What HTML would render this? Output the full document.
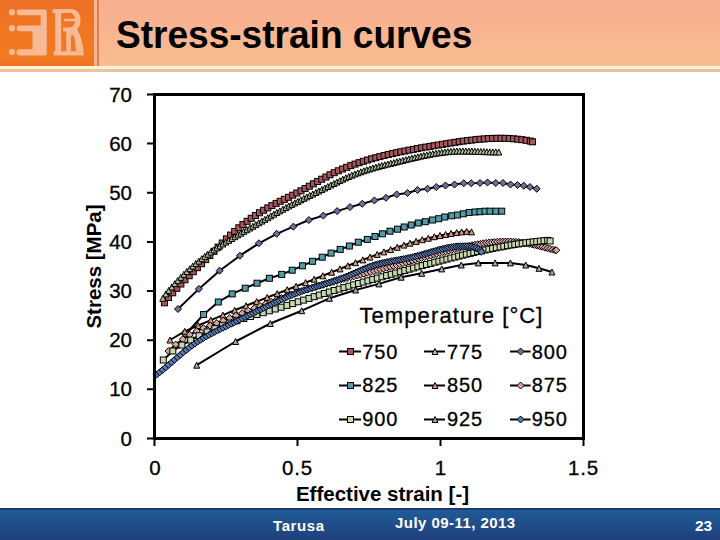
<!DOCTYPE html>
<html><head><meta charset="utf-8">
<style>
html,body{margin:0;padding:0;}
body{width:720px;height:540px;overflow:hidden;position:relative;background:#fff;font-family:"Liberation Sans",sans-serif;}
.abs{position:absolute;}
#logo{left:0;top:0;width:94px;height:66px;background:linear-gradient(#EE7024,#F47A20 85%,#EC7424);}
#strip1{left:94px;top:0;width:3px;height:72px;background:#F8B590;}
#strip2{left:97px;top:0;width:2px;height:72px;background:#D98050;}
#bar{left:99px;top:0;width:621px;height:66px;background:linear-gradient(#F8AD90,#F8BD90);}
#hl1{left:0;top:66px;width:720px;height:3px;background:#FFF3D8;}
#hl2{left:0;top:69px;width:720px;height:3px;background:#E9C2A2;}
#hl2b{left:0;top:69px;width:94px;height:3px;background:#E58A4A;}
#title{left:115.5px;top:13px;font-weight:bold;font-size:39px;color:#000;white-space:nowrap;line-height:44px;transform:scaleX(0.95);transform-origin:0 0;}
#footer{left:0;top:508px;width:720px;height:32px;background:linear-gradient(#1F5E9A,#1F5A96 10%,#1F407C);}
#footline{left:0;top:508px;width:720px;height:2px;background:#1C3B6A;}
.ft{color:#fff;font-weight:bold;font-size:15px;white-space:nowrap;line-height:16px;}
svg{position:absolute;left:0;top:0;}
</style></head><body>
<div id="logo" class="abs"></div>
<div id="strip1" class="abs"></div>
<div id="strip2" class="abs"></div>
<div id="bar" class="abs"></div>
<div id="hl1" class="abs"></div>
<div id="hl2" class="abs"></div>
<svg width="94" height="66" viewBox="0 0 94 66">
<g fill="#F8BA94">
<circle cx="11.9" cy="12.3" r="3.1"/>
<circle cx="11.9" cy="28.2" r="3.1"/>
<circle cx="11.9" cy="52" r="3.1"/>
<path d="M19.5 9.6H44.8Q46.8 9.6 46.8 11.6V53.4Q46.8 55.4 44.8 55.4H19.5A3.05 3.05 0 0 1 19.5 49.3H32.5V31.3H19.5A2.95 2.95 0 0 1 19.5 25.4H40.6V15.2H19.5A2.8 2.8 0 0 1 19.5 9.6Z"/>
<path d="M52.5 9.1H66V13.1H52.5Z"/>
<rect x="55.1" y="12" width="6.1" height="40"/>
<rect x="53.6" y="51.3" width="30" height="4.1"/>
<path d="M63 9.1H71C77.5 9.1 80.5 14.5 80.5 20.5C80.5 24.5 79 27.5 77 29.5C80.5 35 82.8 43 83.6 51.3H76C75.6 45 75 39.5 73.8 35.5H70.9V51.3H66.3V31.5H63V27.5H69.5C73 27.5 75 24.5 75 21.3H63.7V18.7H75C74.5 15.5 72.5 13.1 70 13.1H63Z"/>
</g>
</svg>
<div id="title" class="abs">Stress-strain curves</div>

<svg width="720" height="540" viewBox="0 0 720 540" style="font-family:'Liberation Sans',sans-serif;">
<g><g stroke="#000" stroke-width="1"><rect x="161.4" y="299.8" width="6" height="6" fill="#A8565C"/><rect x="165.5" y="294.5" width="6" height="6" fill="#A8565C"/><rect x="169.7" y="289.8" width="6" height="6" fill="#A8565C"/><rect x="173.8" y="285.3" width="6" height="6" fill="#A8565C"/><rect x="177.9" y="281.0" width="6" height="6" fill="#A8565C"/><rect x="182.0" y="276.8" width="6" height="6" fill="#A8565C"/><rect x="186.2" y="272.7" width="6" height="6" fill="#A8565C"/><rect x="190.3" y="268.7" width="6" height="6" fill="#A8565C"/><rect x="194.4" y="264.7" width="6" height="6" fill="#A8565C"/><rect x="198.6" y="260.7" width="6" height="6" fill="#A8565C"/><rect x="202.7" y="256.6" width="6" height="6" fill="#A8565C"/><rect x="206.8" y="252.5" width="6" height="6" fill="#A8565C"/><rect x="211.0" y="248.3" width="6" height="6" fill="#A8565C"/><rect x="215.1" y="244.1" width="6" height="6" fill="#A8565C"/><rect x="219.2" y="240.0" width="6" height="6" fill="#A8565C"/><rect x="223.4" y="235.9" width="6" height="6" fill="#A8565C"/><rect x="227.5" y="232.1" width="6" height="6" fill="#A8565C"/><rect x="231.7" y="228.4" width="6" height="6" fill="#A8565C"/><rect x="235.8" y="224.8" width="6" height="6" fill="#A8565C"/><rect x="239.9" y="221.5" width="6" height="6" fill="#A8565C"/><rect x="244.1" y="218.3" width="6" height="6" fill="#A8565C"/><rect x="248.2" y="215.3" width="6" height="6" fill="#A8565C"/><rect x="252.4" y="212.5" width="6" height="6" fill="#A8565C"/><rect x="256.5" y="209.8" width="6" height="6" fill="#A8565C"/><rect x="260.6" y="207.3" width="6" height="6" fill="#A8565C"/><rect x="264.8" y="204.9" width="6" height="6" fill="#A8565C"/><rect x="268.9" y="202.6" width="6" height="6" fill="#A8565C"/><rect x="273.1" y="200.4" width="6" height="6" fill="#A8565C"/><rect x="277.2" y="198.3" width="6" height="6" fill="#A8565C"/><rect x="281.4" y="196.3" width="6" height="6" fill="#A8565C"/><rect x="285.5" y="194.3" width="6" height="6" fill="#A8565C"/><rect x="289.7" y="192.2" width="6" height="6" fill="#A8565C"/><rect x="293.8" y="190.0" width="6" height="6" fill="#A8565C"/><rect x="298.0" y="187.8" width="6" height="6" fill="#A8565C"/><rect x="302.1" y="185.5" width="6" height="6" fill="#A8565C"/><rect x="306.3" y="183.2" width="6" height="6" fill="#A8565C"/><rect x="310.4" y="180.8" width="6" height="6" fill="#A8565C"/><rect x="314.6" y="178.5" width="6" height="6" fill="#A8565C"/><rect x="318.7" y="176.2" width="6" height="6" fill="#A8565C"/><rect x="322.9" y="174.0" width="6" height="6" fill="#A8565C"/><rect x="327.0" y="171.8" width="6" height="6" fill="#A8565C"/><rect x="331.2" y="169.7" width="6" height="6" fill="#A8565C"/><rect x="335.3" y="167.8" width="6" height="6" fill="#A8565C"/><rect x="339.5" y="166.0" width="6" height="6" fill="#A8565C"/><rect x="343.7" y="164.3" width="6" height="6" fill="#A8565C"/><rect x="347.8" y="162.6" width="6" height="6" fill="#A8565C"/><rect x="352.0" y="161.1" width="6" height="6" fill="#A8565C"/><rect x="356.1" y="159.7" width="6" height="6" fill="#A8565C"/><rect x="360.3" y="158.3" width="6" height="6" fill="#A8565C"/><rect x="364.5" y="157.0" width="6" height="6" fill="#A8565C"/><rect x="368.6" y="155.8" width="6" height="6" fill="#A8565C"/><rect x="372.8" y="154.7" width="6" height="6" fill="#A8565C"/><rect x="376.9" y="153.6" width="6" height="6" fill="#A8565C"/><rect x="381.1" y="152.5" width="6" height="6" fill="#A8565C"/><rect x="385.3" y="151.5" width="6" height="6" fill="#A8565C"/><rect x="389.4" y="150.6" width="6" height="6" fill="#A8565C"/><rect x="393.6" y="149.7" width="6" height="6" fill="#A8565C"/><rect x="397.8" y="148.8" width="6" height="6" fill="#A8565C"/><rect x="401.9" y="148.0" width="6" height="6" fill="#A8565C"/><rect x="406.1" y="147.1" width="6" height="6" fill="#A8565C"/><rect x="410.3" y="146.4" width="6" height="6" fill="#A8565C"/><rect x="414.4" y="145.6" width="6" height="6" fill="#A8565C"/><rect x="418.6" y="144.8" width="6" height="6" fill="#A8565C"/><rect x="422.8" y="144.1" width="6" height="6" fill="#A8565C"/><rect x="426.9" y="143.4" width="6" height="6" fill="#A8565C"/><rect x="431.1" y="142.7" width="6" height="6" fill="#A8565C"/><rect x="435.3" y="142.0" width="6" height="6" fill="#A8565C"/><rect x="439.5" y="141.3" width="6" height="6" fill="#A8565C"/><rect x="443.6" y="140.7" width="6" height="6" fill="#A8565C"/><rect x="447.8" y="140.0" width="6" height="6" fill="#A8565C"/><rect x="452.0" y="139.3" width="6" height="6" fill="#A8565C"/><rect x="456.2" y="138.7" width="6" height="6" fill="#A8565C"/><rect x="460.3" y="138.1" width="6" height="6" fill="#A8565C"/><rect x="464.5" y="137.6" width="6" height="6" fill="#A8565C"/><rect x="468.7" y="137.1" width="6" height="6" fill="#A8565C"/><rect x="472.9" y="136.6" width="6" height="6" fill="#A8565C"/><rect x="477.1" y="136.2" width="6" height="6" fill="#A8565C"/><rect x="481.2" y="135.9" width="6" height="6" fill="#A8565C"/><rect x="485.4" y="135.6" width="6" height="6" fill="#A8565C"/><rect x="489.6" y="135.4" width="6" height="6" fill="#A8565C"/><rect x="493.8" y="135.3" width="6" height="6" fill="#A8565C"/><rect x="498.0" y="135.3" width="6" height="6" fill="#A8565C"/><rect x="502.1" y="135.3" width="6" height="6" fill="#A8565C"/><rect x="506.3" y="135.5" width="6" height="6" fill="#A8565C"/><rect x="510.5" y="135.8" width="6" height="6" fill="#A8565C"/><rect x="514.7" y="136.2" width="6" height="6" fill="#A8565C"/><rect x="518.9" y="136.7" width="6" height="6" fill="#A8565C"/><rect x="523.1" y="137.3" width="6" height="6" fill="#A8565C"/><rect x="527.3" y="138.1" width="6" height="6" fill="#A8565C"/><rect x="529.5" y="138.8" width="6" height="6" fill="#A8565C"/></g></g>
<g><g stroke="#000" stroke-width="1"><path d="M162.8 295.3L165.8 301.3L159.8 301.3Z" fill="#B2C29C"/><path d="M165.8 290.9L168.8 296.9L162.8 296.9Z" fill="#B2C29C"/><path d="M168.8 287.3L171.8 293.3L165.8 293.3Z" fill="#B2C29C"/><path d="M171.8 283.9L174.8 289.9L168.8 289.9Z" fill="#B2C29C"/><path d="M174.8 280.6L177.8 286.6L171.8 286.6Z" fill="#B2C29C"/><path d="M177.8 277.4L180.8 283.4L174.8 283.4Z" fill="#B2C29C"/><path d="M180.8 274.3L183.8 280.3L177.8 280.3Z" fill="#B2C29C"/><path d="M183.8 271.3L186.8 277.3L180.8 277.3Z" fill="#B2C29C"/><path d="M186.8 268.5L189.8 274.5L183.8 274.5Z" fill="#B2C29C"/><path d="M189.8 265.7L192.8 271.7L186.8 271.7Z" fill="#B2C29C"/><path d="M192.8 263.1L195.8 269.1L189.8 269.1Z" fill="#B2C29C"/><path d="M195.8 260.5L198.8 266.5L192.8 266.5Z" fill="#B2C29C"/><path d="M198.8 258.1L201.8 264.1L195.8 264.1Z" fill="#B2C29C"/><path d="M201.8 255.7L204.8 261.7L198.8 261.7Z" fill="#B2C29C"/><path d="M204.8 253.4L207.8 259.4L201.8 259.4Z" fill="#B2C29C"/><path d="M207.8 251.2L210.8 257.2L204.8 257.2Z" fill="#B2C29C"/><path d="M210.8 249.0L213.8 255.0L207.8 255.0Z" fill="#B2C29C"/><path d="M213.8 246.9L216.8 252.9L210.8 252.9Z" fill="#B2C29C"/><path d="M216.8 244.9L219.8 250.9L213.8 250.9Z" fill="#B2C29C"/><path d="M219.8 242.9L222.8 248.9L216.8 248.9Z" fill="#B2C29C"/><path d="M222.8 241.0L225.8 247.0L219.8 247.0Z" fill="#B2C29C"/><path d="M225.8 239.1L228.8 245.1L222.8 245.1Z" fill="#B2C29C"/><path d="M228.8 237.3L231.8 243.3L225.8 243.3Z" fill="#B2C29C"/><path d="M231.8 235.5L234.8 241.5L228.8 241.5Z" fill="#B2C29C"/><path d="M234.8 233.7L237.8 239.7L231.8 239.7Z" fill="#B2C29C"/><path d="M237.8 231.9L240.8 237.9L234.8 237.9Z" fill="#B2C29C"/><path d="M240.8 230.2L243.8 236.2L237.8 236.2Z" fill="#B2C29C"/><path d="M243.8 228.4L246.8 234.4L240.8 234.4Z" fill="#B2C29C"/><path d="M246.8 226.7L249.8 232.7L243.8 232.7Z" fill="#B2C29C"/><path d="M249.8 225.0L252.8 231.0L246.8 231.0Z" fill="#B2C29C"/><path d="M252.8 223.3L255.8 229.3L249.8 229.3Z" fill="#B2C29C"/><path d="M255.8 221.6L258.8 227.6L252.8 227.6Z" fill="#B2C29C"/><path d="M258.8 219.8L261.8 225.8L255.8 225.8Z" fill="#B2C29C"/><path d="M261.8 218.1L264.8 224.1L258.8 224.1Z" fill="#B2C29C"/><path d="M264.8 216.4L267.8 222.4L261.8 222.4Z" fill="#B2C29C"/><path d="M267.8 214.7L270.8 220.7L264.8 220.7Z" fill="#B2C29C"/><path d="M270.8 212.9L273.8 218.9L267.8 218.9Z" fill="#B2C29C"/><path d="M273.8 211.2L276.8 217.2L270.8 217.2Z" fill="#B2C29C"/><path d="M276.8 209.5L279.8 215.5L273.8 215.5Z" fill="#B2C29C"/><path d="M279.8 207.9L282.8 213.9L276.8 213.9Z" fill="#B2C29C"/><path d="M282.8 206.2L285.8 212.2L279.8 212.2Z" fill="#B2C29C"/><path d="M285.8 204.6L288.8 210.6L282.8 210.6Z" fill="#B2C29C"/><path d="M288.8 203.0L291.8 209.0L285.8 209.0Z" fill="#B2C29C"/><path d="M291.8 201.4L294.8 207.4L288.8 207.4Z" fill="#B2C29C"/><path d="M294.8 199.9L297.8 205.9L291.8 205.9Z" fill="#B2C29C"/><path d="M297.8 198.4L300.8 204.4L294.8 204.4Z" fill="#B2C29C"/><path d="M300.8 196.9L303.8 202.9L297.8 202.9Z" fill="#B2C29C"/><path d="M303.8 195.4L306.8 201.4L300.8 201.4Z" fill="#B2C29C"/><path d="M306.8 193.9L309.8 199.9L303.8 199.9Z" fill="#B2C29C"/><path d="M309.8 192.4L312.8 198.4L306.8 198.4Z" fill="#B2C29C"/><path d="M312.8 191.0L315.8 197.0L309.8 197.0Z" fill="#B2C29C"/><path d="M315.8 189.5L318.8 195.5L312.8 195.5Z" fill="#B2C29C"/><path d="M318.8 188.0L321.8 194.0L315.8 194.0Z" fill="#B2C29C"/><path d="M321.8 186.5L324.8 192.5L318.8 192.5Z" fill="#B2C29C"/><path d="M324.8 185.0L327.8 191.0L321.8 191.0Z" fill="#B2C29C"/><path d="M327.8 183.5L330.8 189.5L324.8 189.5Z" fill="#B2C29C"/><path d="M330.8 182.0L333.8 188.0L327.8 188.0Z" fill="#B2C29C"/><path d="M333.8 180.5L336.8 186.5L330.8 186.5Z" fill="#B2C29C"/><path d="M336.8 179.1L339.8 185.1L333.8 185.1Z" fill="#B2C29C"/><path d="M339.8 177.6L342.8 183.6L336.8 183.6Z" fill="#B2C29C"/><path d="M342.8 176.2L345.8 182.2L339.8 182.2Z" fill="#B2C29C"/><path d="M345.8 174.8L348.8 180.8L342.8 180.8Z" fill="#B2C29C"/><path d="M348.8 173.5L351.8 179.5L345.8 179.5Z" fill="#B2C29C"/><path d="M351.8 172.2L354.8 178.2L348.8 178.2Z" fill="#B2C29C"/><path d="M354.8 171.0L357.8 177.0L351.8 177.0Z" fill="#B2C29C"/><path d="M357.8 169.9L360.8 175.9L354.8 175.9Z" fill="#B2C29C"/><path d="M360.8 168.8L363.8 174.8L357.8 174.8Z" fill="#B2C29C"/><path d="M363.8 167.8L366.8 173.8L360.8 173.8Z" fill="#B2C29C"/><path d="M366.8 166.8L369.8 172.8L363.8 172.8Z" fill="#B2C29C"/><path d="M369.8 165.9L372.8 171.9L366.8 171.9Z" fill="#B2C29C"/><path d="M372.8 165.0L375.8 171.0L369.8 171.0Z" fill="#B2C29C"/><path d="M375.8 164.1L378.8 170.1L372.8 170.1Z" fill="#B2C29C"/><path d="M378.8 163.3L381.8 169.3L375.8 169.3Z" fill="#B2C29C"/><path d="M381.8 162.5L384.8 168.5L378.8 168.5Z" fill="#B2C29C"/><path d="M384.8 161.8L387.8 167.8L381.8 167.8Z" fill="#B2C29C"/><path d="M387.8 161.0L390.8 167.0L384.8 167.0Z" fill="#B2C29C"/><path d="M390.8 160.3L393.8 166.3L387.8 166.3Z" fill="#B2C29C"/><path d="M393.8 159.6L396.8 165.6L390.8 165.6Z" fill="#B2C29C"/><path d="M396.8 158.8L399.8 164.8L393.8 164.8Z" fill="#B2C29C"/><path d="M399.8 158.1L402.8 164.1L396.8 164.1Z" fill="#B2C29C"/><path d="M402.8 157.4L405.8 163.4L399.8 163.4Z" fill="#B2C29C"/><path d="M405.8 156.6L408.8 162.6L402.8 162.6Z" fill="#B2C29C"/><path d="M408.8 155.9L411.8 161.9L405.8 161.9Z" fill="#B2C29C"/><path d="M411.8 155.2L414.8 161.2L408.8 161.2Z" fill="#B2C29C"/><path d="M414.8 154.5L417.8 160.5L411.8 160.5Z" fill="#B2C29C"/><path d="M417.8 153.8L420.8 159.8L414.8 159.8Z" fill="#B2C29C"/><path d="M420.8 153.1L423.8 159.1L417.8 159.1Z" fill="#B2C29C"/><path d="M423.8 152.5L426.8 158.5L420.8 158.5Z" fill="#B2C29C"/><path d="M426.8 151.9L429.8 157.9L423.8 157.9Z" fill="#B2C29C"/><path d="M429.8 151.3L432.8 157.3L426.8 157.3Z" fill="#B2C29C"/><path d="M432.8 150.7L435.8 156.7L429.8 156.7Z" fill="#B2C29C"/><path d="M435.8 150.2L438.8 156.2L432.8 156.2Z" fill="#B2C29C"/><path d="M438.8 149.8L441.8 155.8L435.8 155.8Z" fill="#B2C29C"/><path d="M441.8 149.4L444.8 155.4L438.8 155.4Z" fill="#B2C29C"/><path d="M444.8 149.0L447.8 155.0L441.8 155.0Z" fill="#B2C29C"/><path d="M447.8 148.7L450.8 154.7L444.8 154.7Z" fill="#B2C29C"/><path d="M450.8 148.4L453.8 154.4L447.8 154.4Z" fill="#B2C29C"/><path d="M453.8 148.2L456.8 154.2L450.8 154.2Z" fill="#B2C29C"/><path d="M456.8 148.1L459.8 154.1L453.8 154.1Z" fill="#B2C29C"/><path d="M459.8 148.0L462.8 154.0L456.8 154.0Z" fill="#B2C29C"/><path d="M462.8 148.0L465.8 154.0L459.8 154.0Z" fill="#B2C29C"/><path d="M465.8 148.0L468.8 154.0L462.8 154.0Z" fill="#B2C29C"/><path d="M468.8 148.1L471.8 154.1L465.8 154.1Z" fill="#B2C29C"/><path d="M471.8 148.1L474.8 154.1L468.8 154.1Z" fill="#B2C29C"/><path d="M474.8 148.2L477.8 154.2L471.8 154.2Z" fill="#B2C29C"/><path d="M477.8 148.3L480.8 154.3L474.8 154.3Z" fill="#B2C29C"/><path d="M480.8 148.5L483.8 154.5L477.8 154.5Z" fill="#B2C29C"/><path d="M483.8 148.6L486.8 154.6L480.8 154.6Z" fill="#B2C29C"/><path d="M486.8 148.7L489.8 154.7L483.8 154.7Z" fill="#B2C29C"/><path d="M489.8 148.8L492.8 154.8L486.8 154.8Z" fill="#B2C29C"/><path d="M492.8 148.9L495.8 154.9L489.8 154.9Z" fill="#B2C29C"/><path d="M495.8 148.9L498.8 154.9L492.8 154.9Z" fill="#B2C29C"/><path d="M498.8 149.0L501.8 155.0L495.8 155.0Z" fill="#B2C29C"/></g></g>
<g><path d="M178.0 309.0L198.9 288.9L219.6 270.7L239.9 255.7L258.9 243.3L276.7 233.8L293.3 226.7L308.9 220.0L323.3 215.6L337.1 211.1L350.0 207.1L362.2 203.8L374.4 200.4L386.0 197.8L396.7 194.4L407.5 193.0L417.5 190.0L427.5 188.8L436.2 187.0L445.5 185.5L454.5 184.5L463.8 183.2L471.2 183.2L480.0 183.0L487.5 182.5L495.8 183.0L503.0 183.0L510.5 184.5L517.5 185.0L523.8 185.8L530.0 187.0L536.8 188.8" fill="none" stroke="#000" stroke-width="2" stroke-linejoin="round"/><g stroke="#000" stroke-width="1"><path d="M178.0 305.5L181.5 309.0L178.0 312.5L174.5 309.0Z" fill="#7A6A9B"/><path d="M198.9 285.4L202.4 288.9L198.9 292.4L195.4 288.9Z" fill="#7A6A9B"/><path d="M219.6 267.2L223.1 270.7L219.6 274.2L216.1 270.7Z" fill="#7A6A9B"/><path d="M239.9 252.2L243.4 255.7L239.9 259.2L236.4 255.7Z" fill="#7A6A9B"/><path d="M258.9 239.8L262.4 243.3L258.9 246.8L255.4 243.3Z" fill="#7A6A9B"/><path d="M276.7 230.3L280.2 233.8L276.7 237.3L273.2 233.8Z" fill="#7A6A9B"/><path d="M293.3 223.2L296.8 226.7L293.3 230.2L289.8 226.7Z" fill="#7A6A9B"/><path d="M308.9 216.5L312.4 220.0L308.9 223.5L305.4 220.0Z" fill="#7A6A9B"/><path d="M323.3 212.1L326.8 215.6L323.3 219.1L319.8 215.6Z" fill="#7A6A9B"/><path d="M337.1 207.6L340.6 211.1L337.1 214.6L333.6 211.1Z" fill="#7A6A9B"/><path d="M350.0 203.6L353.5 207.1L350.0 210.6L346.5 207.1Z" fill="#7A6A9B"/><path d="M362.2 200.3L365.7 203.8L362.2 207.3L358.7 203.8Z" fill="#7A6A9B"/><path d="M374.4 196.9L377.9 200.4L374.4 203.9L370.9 200.4Z" fill="#7A6A9B"/><path d="M386.0 194.3L389.5 197.8L386.0 201.3L382.5 197.8Z" fill="#7A6A9B"/><path d="M396.7 190.9L400.2 194.4L396.7 197.9L393.2 194.4Z" fill="#7A6A9B"/><path d="M407.5 189.5L411.0 193.0L407.5 196.5L404.0 193.0Z" fill="#7A6A9B"/><path d="M417.5 186.5L421.0 190.0L417.5 193.5L414.0 190.0Z" fill="#7A6A9B"/><path d="M427.5 185.2L431.0 188.8L427.5 192.2L424.0 188.8Z" fill="#7A6A9B"/><path d="M436.2 183.5L439.8 187.0L436.2 190.5L432.8 187.0Z" fill="#7A6A9B"/><path d="M445.5 182.0L449.0 185.5L445.5 189.0L442.0 185.5Z" fill="#7A6A9B"/><path d="M454.5 181.0L458.0 184.5L454.5 188.0L451.0 184.5Z" fill="#7A6A9B"/><path d="M463.8 179.8L467.2 183.2L463.8 186.8L460.2 183.2Z" fill="#7A6A9B"/><path d="M471.2 179.8L474.8 183.2L471.2 186.8L467.8 183.2Z" fill="#7A6A9B"/><path d="M480.0 179.5L483.5 183.0L480.0 186.5L476.5 183.0Z" fill="#7A6A9B"/><path d="M487.5 179.0L491.0 182.5L487.5 186.0L484.0 182.5Z" fill="#7A6A9B"/><path d="M495.8 179.5L499.2 183.0L495.8 186.5L492.2 183.0Z" fill="#7A6A9B"/><path d="M503.0 179.5L506.5 183.0L503.0 186.5L499.5 183.0Z" fill="#7A6A9B"/><path d="M510.5 181.0L514.0 184.5L510.5 188.0L507.0 184.5Z" fill="#7A6A9B"/><path d="M517.5 181.5L521.0 185.0L517.5 188.5L514.0 185.0Z" fill="#7A6A9B"/><path d="M523.8 182.2L527.2 185.8L523.8 189.2L520.2 185.8Z" fill="#7A6A9B"/><path d="M530.0 183.5L533.5 187.0L530.0 190.5L526.5 187.0Z" fill="#7A6A9B"/><path d="M536.8 185.2L540.2 188.8L536.8 192.2L533.2 188.8Z" fill="#7A6A9B"/></g></g>
<g><path d="M186.0 334.0L203.6 314.5L218.3 302.0L232.2 293.9L245.2 288.2L257.0 283.2L269.4 278.3L281.7 274.4L292.2 270.2L302.5 265.8L312.5 261.3L322.2 257.2L331.1 253.1L340.2 249.4L349.4 246.0L358.3 242.2L367.3 239.4L375.0 236.5L382.5 233.8L390.0 231.2L397.5 229.2L404.2 227.0L411.3 225.0L418.3 223.0L425.3 221.7L432.5 220.0L438.7 218.7L444.7 217.0L451.7 215.8L457.5 215.0L463.3 213.8L469.2 212.5L475.0 212.0L480.0 211.7L485.0 211.2L490.0 211.2L495.8 211.2L501.7 211.2" fill="none" stroke="#000" stroke-width="2" stroke-linejoin="round"/><g stroke="#000" stroke-width="1"><rect x="183.0" y="331.0" width="6" height="6" fill="#4F9BA9"/><rect x="200.6" y="311.5" width="6" height="6" fill="#4F9BA9"/><rect x="215.3" y="299.0" width="6" height="6" fill="#4F9BA9"/><rect x="229.2" y="290.9" width="6" height="6" fill="#4F9BA9"/><rect x="242.2" y="285.2" width="6" height="6" fill="#4F9BA9"/><rect x="254.0" y="280.2" width="6" height="6" fill="#4F9BA9"/><rect x="266.4" y="275.3" width="6" height="6" fill="#4F9BA9"/><rect x="278.7" y="271.4" width="6" height="6" fill="#4F9BA9"/><rect x="289.2" y="267.2" width="6" height="6" fill="#4F9BA9"/><rect x="299.5" y="262.8" width="6" height="6" fill="#4F9BA9"/><rect x="309.5" y="258.3" width="6" height="6" fill="#4F9BA9"/><rect x="319.2" y="254.2" width="6" height="6" fill="#4F9BA9"/><rect x="328.1" y="250.1" width="6" height="6" fill="#4F9BA9"/><rect x="337.2" y="246.4" width="6" height="6" fill="#4F9BA9"/><rect x="346.4" y="243.0" width="6" height="6" fill="#4F9BA9"/><rect x="355.3" y="239.2" width="6" height="6" fill="#4F9BA9"/><rect x="364.3" y="236.4" width="6" height="6" fill="#4F9BA9"/><rect x="372.0" y="233.5" width="6" height="6" fill="#4F9BA9"/><rect x="379.5" y="230.8" width="6" height="6" fill="#4F9BA9"/><rect x="387.0" y="228.2" width="6" height="6" fill="#4F9BA9"/><rect x="394.5" y="226.2" width="6" height="6" fill="#4F9BA9"/><rect x="401.2" y="224.0" width="6" height="6" fill="#4F9BA9"/><rect x="408.3" y="222.0" width="6" height="6" fill="#4F9BA9"/><rect x="415.3" y="220.0" width="6" height="6" fill="#4F9BA9"/><rect x="422.3" y="218.7" width="6" height="6" fill="#4F9BA9"/><rect x="429.5" y="217.0" width="6" height="6" fill="#4F9BA9"/><rect x="435.7" y="215.7" width="6" height="6" fill="#4F9BA9"/><rect x="441.7" y="214.0" width="6" height="6" fill="#4F9BA9"/><rect x="448.7" y="212.8" width="6" height="6" fill="#4F9BA9"/><rect x="454.5" y="212.0" width="6" height="6" fill="#4F9BA9"/><rect x="460.3" y="210.8" width="6" height="6" fill="#4F9BA9"/><rect x="466.2" y="209.5" width="6" height="6" fill="#4F9BA9"/><rect x="472.0" y="209.0" width="6" height="6" fill="#4F9BA9"/><rect x="477.0" y="208.7" width="6" height="6" fill="#4F9BA9"/><rect x="482.0" y="208.2" width="6" height="6" fill="#4F9BA9"/><rect x="487.0" y="208.2" width="6" height="6" fill="#4F9BA9"/><rect x="492.8" y="208.2" width="6" height="6" fill="#4F9BA9"/><rect x="498.7" y="208.2" width="6" height="6" fill="#4F9BA9"/></g></g>
<g><path d="M170.0 340.0L184.8 331.3L198.2 325.5L210.8 320.1L222.9 315.1L234.7 310.3L246.0 305.8L256.7 301.6L267.2 297.5L277.2 293.6L287.2 289.7L296.1 286.3L305.6 282.6L314.2 279.2L322.8 275.8L331.7 272.2L340.0 268.9L347.8 265.8L355.5 262.7L362.8 259.9L370.0 257.1L377.2 254.4L383.9 251.9L390.6 249.6L397.2 247.3L403.9 245.1L410.0 243.2L416.1 241.4L422.2 239.7L428.3 238.2L434.4 236.7L440.0 235.5L445.6 234.4L451.1 233.4L456.7 232.6L461.7 231.9L466.7 231.4L471.5 231.9" fill="none" stroke="#000" stroke-width="2" stroke-linejoin="round"/><g stroke="#000" stroke-width="1"><path d="M170.0 337.0L173.0 343.0L167.0 343.0Z" fill="#D69C7A"/><path d="M184.8 328.3L187.8 334.3L181.8 334.3Z" fill="#D69C7A"/><path d="M198.2 322.5L201.2 328.5L195.2 328.5Z" fill="#D69C7A"/><path d="M210.8 317.1L213.8 323.1L207.8 323.1Z" fill="#D69C7A"/><path d="M222.9 312.1L225.9 318.1L219.9 318.1Z" fill="#D69C7A"/><path d="M234.7 307.3L237.7 313.3L231.7 313.3Z" fill="#D69C7A"/><path d="M246.0 302.8L249.0 308.8L243.0 308.8Z" fill="#D69C7A"/><path d="M256.7 298.6L259.7 304.6L253.7 304.6Z" fill="#D69C7A"/><path d="M267.2 294.5L270.2 300.5L264.2 300.5Z" fill="#D69C7A"/><path d="M277.2 290.6L280.2 296.6L274.2 296.6Z" fill="#D69C7A"/><path d="M287.2 286.7L290.2 292.7L284.2 292.7Z" fill="#D69C7A"/><path d="M296.1 283.3L299.1 289.3L293.1 289.3Z" fill="#D69C7A"/><path d="M305.6 279.6L308.6 285.6L302.6 285.6Z" fill="#D69C7A"/><path d="M314.2 276.2L317.2 282.2L311.2 282.2Z" fill="#D69C7A"/><path d="M322.8 272.8L325.8 278.8L319.8 278.8Z" fill="#D69C7A"/><path d="M331.7 269.2L334.7 275.2L328.7 275.2Z" fill="#D69C7A"/><path d="M340.0 265.9L343.0 271.9L337.0 271.9Z" fill="#D69C7A"/><path d="M347.8 262.8L350.8 268.8L344.8 268.8Z" fill="#D69C7A"/><path d="M355.5 259.7L358.5 265.7L352.5 265.7Z" fill="#D69C7A"/><path d="M362.8 256.9L365.8 262.9L359.8 262.9Z" fill="#D69C7A"/><path d="M370.0 254.1L373.0 260.1L367.0 260.1Z" fill="#D69C7A"/><path d="M377.2 251.4L380.2 257.4L374.2 257.4Z" fill="#D69C7A"/><path d="M383.9 248.9L386.9 254.9L380.9 254.9Z" fill="#D69C7A"/><path d="M390.6 246.6L393.6 252.6L387.6 252.6Z" fill="#D69C7A"/><path d="M397.2 244.3L400.2 250.3L394.2 250.3Z" fill="#D69C7A"/><path d="M403.9 242.1L406.9 248.1L400.9 248.1Z" fill="#D69C7A"/><path d="M410.0 240.2L413.0 246.2L407.0 246.2Z" fill="#D69C7A"/><path d="M416.1 238.4L419.1 244.4L413.1 244.4Z" fill="#D69C7A"/><path d="M422.2 236.7L425.2 242.7L419.2 242.7Z" fill="#D69C7A"/><path d="M428.3 235.2L431.3 241.2L425.3 241.2Z" fill="#D69C7A"/><path d="M434.4 233.7L437.4 239.7L431.4 239.7Z" fill="#D69C7A"/><path d="M440.0 232.5L443.0 238.5L437.0 238.5Z" fill="#D69C7A"/><path d="M445.6 231.4L448.6 237.4L442.6 237.4Z" fill="#D69C7A"/><path d="M451.1 230.4L454.1 236.4L448.1 236.4Z" fill="#D69C7A"/><path d="M456.7 229.6L459.7 235.6L453.7 235.6Z" fill="#D69C7A"/><path d="M461.7 228.9L464.7 234.9L458.7 234.9Z" fill="#D69C7A"/><path d="M466.7 228.4L469.7 234.4L463.7 234.4Z" fill="#D69C7A"/><path d="M471.5 228.9L474.5 234.9L468.5 234.9Z" fill="#D69C7A"/></g></g>
<g><path d="M168.5 351.1L175.7 344.5L182.8 339.2L189.8 334.8L196.6 331.2L203.4 328.2L210.1 325.6L216.7 323.1L223.2 320.6L229.6 318.1L235.9 315.6L242.1 313.2L248.2 310.7L254.2 308.3L260.1 306.0L265.7 303.9L271.1 301.8L276.4 299.8L281.5 298.0L286.3 296.3L291.0 294.7L295.6 293.2L299.9 291.8L304.2 290.4L308.2 289.2L312.1 288.0L315.9 286.9L319.6 285.8L323.1 284.8L326.6 283.8L330.0 282.8L333.5 281.8L336.9 280.9L340.4 280.0L343.8 279.0L347.2 278.1L350.6 277.2L353.9 276.3L357.3 275.5L360.6 274.6L364.0 273.7L367.3 272.8L370.6 272.0L373.9 271.1L377.1 270.2L380.4 269.4L383.6 268.5L386.9 267.7L390.1 266.8L393.3 265.9L396.5 265.0L399.7 264.2L402.8 263.3L406.0 262.4L409.1 261.5L412.2 260.6L415.3 259.7L418.4 258.8L421.5 258.0L424.6 257.1L427.6 256.2L430.7 255.4L433.7 254.5L436.7 253.7L439.7 252.9L442.7 252.1L445.7 251.3L448.7 250.5L451.6 249.8L454.6 249.1L457.5 248.4L460.4 247.7L463.3 247.1L466.2 246.4L469.1 245.8L472.0 245.3L474.8 244.7L477.7 244.2L480.5 243.8L483.3 243.3L486.1 242.9L488.9 242.6L491.7 242.3L494.5 242.0L497.2 241.8L500.0 241.6L502.7 241.5L505.5 241.5L508.2 241.5L510.9 241.6L513.6 241.7L516.2 241.9L518.9 242.1L521.6 242.5L524.2 242.9L526.8 243.3L529.5 243.9L532.1 244.4L534.7 245.0L537.3 245.6L539.9 246.3L542.4 246.9L545.0 247.6L547.5 248.3L550.1 248.9L552.6 249.6L555.1 250.2L556.3 250.2" fill="none" stroke="#000" stroke-width="2" stroke-linejoin="round"/><g stroke="#000" stroke-width="1"><path d="M168.5 347.6L172.0 351.1L168.5 354.6L165.0 351.1Z" fill="#D9A2A1"/><path d="M175.7 341.0L179.2 344.5L175.7 348.0L172.2 344.5Z" fill="#D9A2A1"/><path d="M182.8 335.7L186.3 339.2L182.8 342.7L179.3 339.2Z" fill="#D9A2A1"/><path d="M189.8 331.3L193.3 334.8L189.8 338.3L186.3 334.8Z" fill="#D9A2A1"/><path d="M196.6 327.7L200.1 331.2L196.6 334.7L193.1 331.2Z" fill="#D9A2A1"/><path d="M203.4 324.7L206.9 328.2L203.4 331.7L199.9 328.2Z" fill="#D9A2A1"/><path d="M210.1 322.1L213.6 325.6L210.1 329.1L206.6 325.6Z" fill="#D9A2A1"/><path d="M216.7 319.6L220.2 323.1L216.7 326.6L213.2 323.1Z" fill="#D9A2A1"/><path d="M223.2 317.1L226.7 320.6L223.2 324.1L219.7 320.6Z" fill="#D9A2A1"/><path d="M229.6 314.6L233.1 318.1L229.6 321.6L226.1 318.1Z" fill="#D9A2A1"/><path d="M235.9 312.1L239.4 315.6L235.9 319.1L232.4 315.6Z" fill="#D9A2A1"/><path d="M242.1 309.7L245.6 313.2L242.1 316.7L238.6 313.2Z" fill="#D9A2A1"/><path d="M248.2 307.2L251.7 310.7L248.2 314.2L244.7 310.7Z" fill="#D9A2A1"/><path d="M254.2 304.8L257.7 308.3L254.2 311.8L250.7 308.3Z" fill="#D9A2A1"/><path d="M260.1 302.5L263.6 306.0L260.1 309.5L256.6 306.0Z" fill="#D9A2A1"/><path d="M265.7 300.4L269.2 303.9L265.7 307.4L262.2 303.9Z" fill="#D9A2A1"/><path d="M271.1 298.3L274.6 301.8L271.1 305.3L267.6 301.8Z" fill="#D9A2A1"/><path d="M276.4 296.3L279.9 299.8L276.4 303.3L272.9 299.8Z" fill="#D9A2A1"/><path d="M281.5 294.5L285.0 298.0L281.5 301.5L278.0 298.0Z" fill="#D9A2A1"/><path d="M286.3 292.8L289.8 296.3L286.3 299.8L282.8 296.3Z" fill="#D9A2A1"/><path d="M291.0 291.2L294.5 294.7L291.0 298.2L287.5 294.7Z" fill="#D9A2A1"/><path d="M295.6 289.7L299.1 293.2L295.6 296.7L292.1 293.2Z" fill="#D9A2A1"/><path d="M299.9 288.3L303.4 291.8L299.9 295.3L296.4 291.8Z" fill="#D9A2A1"/><path d="M304.2 286.9L307.7 290.4L304.2 293.9L300.7 290.4Z" fill="#D9A2A1"/><path d="M308.2 285.7L311.7 289.2L308.2 292.7L304.7 289.2Z" fill="#D9A2A1"/><path d="M312.1 284.5L315.6 288.0L312.1 291.5L308.6 288.0Z" fill="#D9A2A1"/><path d="M315.9 283.4L319.4 286.9L315.9 290.4L312.4 286.9Z" fill="#D9A2A1"/><path d="M319.6 282.3L323.1 285.8L319.6 289.3L316.1 285.8Z" fill="#D9A2A1"/><path d="M323.1 281.3L326.6 284.8L323.1 288.3L319.6 284.8Z" fill="#D9A2A1"/><path d="M326.6 280.3L330.1 283.8L326.6 287.3L323.1 283.8Z" fill="#D9A2A1"/><path d="M330.0 279.3L333.5 282.8L330.0 286.3L326.5 282.8Z" fill="#D9A2A1"/><path d="M333.5 278.3L337.0 281.8L333.5 285.3L330.0 281.8Z" fill="#D9A2A1"/><path d="M336.9 277.4L340.4 280.9L336.9 284.4L333.4 280.9Z" fill="#D9A2A1"/><path d="M340.4 276.5L343.9 280.0L340.4 283.5L336.9 280.0Z" fill="#D9A2A1"/><path d="M343.8 275.5L347.3 279.0L343.8 282.5L340.3 279.0Z" fill="#D9A2A1"/><path d="M347.2 274.6L350.7 278.1L347.2 281.6L343.7 278.1Z" fill="#D9A2A1"/><path d="M350.6 273.7L354.1 277.2L350.6 280.7L347.1 277.2Z" fill="#D9A2A1"/><path d="M353.9 272.8L357.4 276.3L353.9 279.8L350.4 276.3Z" fill="#D9A2A1"/><path d="M357.3 272.0L360.8 275.5L357.3 279.0L353.8 275.5Z" fill="#D9A2A1"/><path d="M360.6 271.1L364.1 274.6L360.6 278.1L357.1 274.6Z" fill="#D9A2A1"/><path d="M364.0 270.2L367.5 273.7L364.0 277.2L360.5 273.7Z" fill="#D9A2A1"/><path d="M367.3 269.3L370.8 272.8L367.3 276.3L363.8 272.8Z" fill="#D9A2A1"/><path d="M370.6 268.5L374.1 272.0L370.6 275.5L367.1 272.0Z" fill="#D9A2A1"/><path d="M373.9 267.6L377.4 271.1L373.9 274.6L370.4 271.1Z" fill="#D9A2A1"/><path d="M377.1 266.7L380.6 270.2L377.1 273.7L373.6 270.2Z" fill="#D9A2A1"/><path d="M380.4 265.9L383.9 269.4L380.4 272.9L376.9 269.4Z" fill="#D9A2A1"/><path d="M383.6 265.0L387.1 268.5L383.6 272.0L380.1 268.5Z" fill="#D9A2A1"/><path d="M386.9 264.2L390.4 267.7L386.9 271.2L383.4 267.7Z" fill="#D9A2A1"/><path d="M390.1 263.3L393.6 266.8L390.1 270.3L386.6 266.8Z" fill="#D9A2A1"/><path d="M393.3 262.4L396.8 265.9L393.3 269.4L389.8 265.9Z" fill="#D9A2A1"/><path d="M396.5 261.5L400.0 265.0L396.5 268.5L393.0 265.0Z" fill="#D9A2A1"/><path d="M399.7 260.7L403.2 264.2L399.7 267.7L396.2 264.2Z" fill="#D9A2A1"/><path d="M402.8 259.8L406.3 263.3L402.8 266.8L399.3 263.3Z" fill="#D9A2A1"/><path d="M406.0 258.9L409.5 262.4L406.0 265.9L402.5 262.4Z" fill="#D9A2A1"/><path d="M409.1 258.0L412.6 261.5L409.1 265.0L405.6 261.5Z" fill="#D9A2A1"/><path d="M412.2 257.1L415.7 260.6L412.2 264.1L408.7 260.6Z" fill="#D9A2A1"/><path d="M415.3 256.2L418.8 259.7L415.3 263.2L411.8 259.7Z" fill="#D9A2A1"/><path d="M418.4 255.3L421.9 258.8L418.4 262.3L414.9 258.8Z" fill="#D9A2A1"/><path d="M421.5 254.5L425.0 258.0L421.5 261.5L418.0 258.0Z" fill="#D9A2A1"/><path d="M424.6 253.6L428.1 257.1L424.6 260.6L421.1 257.1Z" fill="#D9A2A1"/><path d="M427.6 252.7L431.1 256.2L427.6 259.7L424.1 256.2Z" fill="#D9A2A1"/><path d="M430.7 251.9L434.2 255.4L430.7 258.9L427.2 255.4Z" fill="#D9A2A1"/><path d="M433.7 251.0L437.2 254.5L433.7 258.0L430.2 254.5Z" fill="#D9A2A1"/><path d="M436.7 250.2L440.2 253.7L436.7 257.2L433.2 253.7Z" fill="#D9A2A1"/><path d="M439.7 249.4L443.2 252.9L439.7 256.4L436.2 252.9Z" fill="#D9A2A1"/><path d="M442.7 248.6L446.2 252.1L442.7 255.6L439.2 252.1Z" fill="#D9A2A1"/><path d="M445.7 247.8L449.2 251.3L445.7 254.8L442.2 251.3Z" fill="#D9A2A1"/><path d="M448.7 247.0L452.2 250.5L448.7 254.0L445.2 250.5Z" fill="#D9A2A1"/><path d="M451.6 246.3L455.1 249.8L451.6 253.3L448.1 249.8Z" fill="#D9A2A1"/><path d="M454.6 245.6L458.1 249.1L454.6 252.6L451.1 249.1Z" fill="#D9A2A1"/><path d="M457.5 244.9L461.0 248.4L457.5 251.9L454.0 248.4Z" fill="#D9A2A1"/><path d="M460.4 244.2L463.9 247.7L460.4 251.2L456.9 247.7Z" fill="#D9A2A1"/><path d="M463.3 243.6L466.8 247.1L463.3 250.6L459.8 247.1Z" fill="#D9A2A1"/><path d="M466.2 242.9L469.7 246.4L466.2 249.9L462.7 246.4Z" fill="#D9A2A1"/><path d="M469.1 242.3L472.6 245.8L469.1 249.3L465.6 245.8Z" fill="#D9A2A1"/><path d="M472.0 241.8L475.5 245.3L472.0 248.8L468.5 245.3Z" fill="#D9A2A1"/><path d="M474.8 241.2L478.3 244.7L474.8 248.2L471.3 244.7Z" fill="#D9A2A1"/><path d="M477.7 240.7L481.2 244.2L477.7 247.7L474.2 244.2Z" fill="#D9A2A1"/><path d="M480.5 240.3L484.0 243.8L480.5 247.3L477.0 243.8Z" fill="#D9A2A1"/><path d="M483.3 239.8L486.8 243.3L483.3 246.8L479.8 243.3Z" fill="#D9A2A1"/><path d="M486.1 239.4L489.6 242.9L486.1 246.4L482.6 242.9Z" fill="#D9A2A1"/><path d="M488.9 239.1L492.4 242.6L488.9 246.1L485.4 242.6Z" fill="#D9A2A1"/><path d="M491.7 238.8L495.2 242.3L491.7 245.8L488.2 242.3Z" fill="#D9A2A1"/><path d="M494.5 238.5L498.0 242.0L494.5 245.5L491.0 242.0Z" fill="#D9A2A1"/><path d="M497.2 238.3L500.7 241.8L497.2 245.3L493.7 241.8Z" fill="#D9A2A1"/><path d="M500.0 238.1L503.5 241.6L500.0 245.1L496.5 241.6Z" fill="#D9A2A1"/><path d="M502.7 238.0L506.2 241.5L502.7 245.0L499.2 241.5Z" fill="#D9A2A1"/><path d="M505.5 238.0L509.0 241.5L505.5 245.0L502.0 241.5Z" fill="#D9A2A1"/><path d="M508.2 238.0L511.7 241.5L508.2 245.0L504.7 241.5Z" fill="#D9A2A1"/><path d="M510.9 238.1L514.4 241.6L510.9 245.1L507.4 241.6Z" fill="#D9A2A1"/><path d="M513.6 238.2L517.1 241.7L513.6 245.2L510.1 241.7Z" fill="#D9A2A1"/><path d="M516.2 238.4L519.7 241.9L516.2 245.4L512.7 241.9Z" fill="#D9A2A1"/><path d="M518.9 238.6L522.4 242.1L518.9 245.6L515.4 242.1Z" fill="#D9A2A1"/><path d="M521.6 239.0L525.1 242.5L521.6 246.0L518.1 242.5Z" fill="#D9A2A1"/><path d="M524.2 239.4L527.7 242.9L524.2 246.4L520.7 242.9Z" fill="#D9A2A1"/><path d="M526.8 239.8L530.3 243.3L526.8 246.8L523.3 243.3Z" fill="#D9A2A1"/><path d="M529.5 240.4L533.0 243.9L529.5 247.4L526.0 243.9Z" fill="#D9A2A1"/><path d="M532.1 240.9L535.6 244.4L532.1 247.9L528.6 244.4Z" fill="#D9A2A1"/><path d="M534.7 241.5L538.2 245.0L534.7 248.5L531.2 245.0Z" fill="#D9A2A1"/><path d="M537.3 242.1L540.8 245.6L537.3 249.1L533.8 245.6Z" fill="#D9A2A1"/><path d="M539.9 242.8L543.4 246.3L539.9 249.8L536.4 246.3Z" fill="#D9A2A1"/><path d="M542.4 243.4L545.9 246.9L542.4 250.4L538.9 246.9Z" fill="#D9A2A1"/><path d="M545.0 244.1L548.5 247.6L545.0 251.1L541.5 247.6Z" fill="#D9A2A1"/><path d="M547.5 244.8L551.0 248.3L547.5 251.8L544.0 248.3Z" fill="#D9A2A1"/><path d="M550.1 245.4L553.6 248.9L550.1 252.4L546.6 248.9Z" fill="#D9A2A1"/><path d="M552.6 246.1L556.1 249.6L552.6 253.1L549.1 249.6Z" fill="#D9A2A1"/><path d="M555.1 246.7L558.6 250.2L555.1 253.7L551.6 250.2Z" fill="#D9A2A1"/><path d="M556.3 246.7L559.8 250.2L556.3 253.7L552.8 250.2Z" fill="#D9A2A1"/></g></g>
<g><path d="M163.3 360.0L172.8 351.0L181.9 345.1L190.7 340.1L199.1 335.7L207.2 331.9L215.0 328.6L222.5 325.7L229.8 323.1L236.9 320.7L243.8 318.5L250.4 316.5L256.9 314.5L263.2 312.7L269.3 310.8L275.3 309.0L281.2 307.2L287.0 305.4L292.7 303.6L298.2 301.8L303.6 300.1L309.0 298.4L314.2 296.7L319.3 295.1L324.3 293.5L329.3 292.0L334.2 290.5L339.2 289.1L344.0 287.6L348.9 286.2L353.7 284.8L358.5 283.5L363.2 282.1L368.0 280.8L372.7 279.4L377.3 278.1L382.0 276.8L386.6 275.6L391.2 274.3L395.7 273.0L400.3 271.7L404.8 270.5L409.2 269.2L413.6 268.0L417.9 266.8L422.2 265.6L426.5 264.5L430.7 263.4L434.8 262.2L438.9 261.2L442.9 260.1L446.9 259.1L450.9 258.0L454.8 257.1L458.7 256.1L462.5 255.2L466.3 254.2L470.1 253.4L473.8 252.5L477.6 251.6L481.4 250.8L485.1 250.0L488.9 249.2L492.6 248.4L496.3 247.7L500.1 247.0L503.8 246.3L507.5 245.7L511.2 245.0L514.8 244.4L518.5 243.9L522.2 243.3L525.9 242.8L529.5 242.3L533.2 241.9L536.8 241.5L540.4 241.1L544.0 240.7L547.7 240.4L550.1 241.0" fill="none" stroke="#000" stroke-width="2" stroke-linejoin="round"/><g stroke="#000" stroke-width="1"><rect x="160.3" y="357.0" width="6" height="6" fill="#C6D9AE"/><rect x="169.8" y="348.0" width="6" height="6" fill="#C6D9AE"/><rect x="178.9" y="342.1" width="6" height="6" fill="#C6D9AE"/><rect x="187.7" y="337.1" width="6" height="6" fill="#C6D9AE"/><rect x="196.1" y="332.7" width="6" height="6" fill="#C6D9AE"/><rect x="204.2" y="328.9" width="6" height="6" fill="#C6D9AE"/><rect x="212.0" y="325.6" width="6" height="6" fill="#C6D9AE"/><rect x="219.5" y="322.7" width="6" height="6" fill="#C6D9AE"/><rect x="226.8" y="320.1" width="6" height="6" fill="#C6D9AE"/><rect x="233.9" y="317.7" width="6" height="6" fill="#C6D9AE"/><rect x="240.8" y="315.5" width="6" height="6" fill="#C6D9AE"/><rect x="247.4" y="313.5" width="6" height="6" fill="#C6D9AE"/><rect x="253.9" y="311.5" width="6" height="6" fill="#C6D9AE"/><rect x="260.2" y="309.7" width="6" height="6" fill="#C6D9AE"/><rect x="266.3" y="307.8" width="6" height="6" fill="#C6D9AE"/><rect x="272.3" y="306.0" width="6" height="6" fill="#C6D9AE"/><rect x="278.2" y="304.2" width="6" height="6" fill="#C6D9AE"/><rect x="284.0" y="302.4" width="6" height="6" fill="#C6D9AE"/><rect x="289.7" y="300.6" width="6" height="6" fill="#C6D9AE"/><rect x="295.2" y="298.8" width="6" height="6" fill="#C6D9AE"/><rect x="300.6" y="297.1" width="6" height="6" fill="#C6D9AE"/><rect x="306.0" y="295.4" width="6" height="6" fill="#C6D9AE"/><rect x="311.2" y="293.7" width="6" height="6" fill="#C6D9AE"/><rect x="316.3" y="292.1" width="6" height="6" fill="#C6D9AE"/><rect x="321.3" y="290.5" width="6" height="6" fill="#C6D9AE"/><rect x="326.3" y="289.0" width="6" height="6" fill="#C6D9AE"/><rect x="331.2" y="287.5" width="6" height="6" fill="#C6D9AE"/><rect x="336.2" y="286.1" width="6" height="6" fill="#C6D9AE"/><rect x="341.0" y="284.6" width="6" height="6" fill="#C6D9AE"/><rect x="345.9" y="283.2" width="6" height="6" fill="#C6D9AE"/><rect x="350.7" y="281.8" width="6" height="6" fill="#C6D9AE"/><rect x="355.5" y="280.5" width="6" height="6" fill="#C6D9AE"/><rect x="360.2" y="279.1" width="6" height="6" fill="#C6D9AE"/><rect x="365.0" y="277.8" width="6" height="6" fill="#C6D9AE"/><rect x="369.7" y="276.4" width="6" height="6" fill="#C6D9AE"/><rect x="374.3" y="275.1" width="6" height="6" fill="#C6D9AE"/><rect x="379.0" y="273.8" width="6" height="6" fill="#C6D9AE"/><rect x="383.6" y="272.6" width="6" height="6" fill="#C6D9AE"/><rect x="388.2" y="271.3" width="6" height="6" fill="#C6D9AE"/><rect x="392.7" y="270.0" width="6" height="6" fill="#C6D9AE"/><rect x="397.3" y="268.7" width="6" height="6" fill="#C6D9AE"/><rect x="401.8" y="267.5" width="6" height="6" fill="#C6D9AE"/><rect x="406.2" y="266.2" width="6" height="6" fill="#C6D9AE"/><rect x="410.6" y="265.0" width="6" height="6" fill="#C6D9AE"/><rect x="414.9" y="263.8" width="6" height="6" fill="#C6D9AE"/><rect x="419.2" y="262.6" width="6" height="6" fill="#C6D9AE"/><rect x="423.5" y="261.5" width="6" height="6" fill="#C6D9AE"/><rect x="427.7" y="260.4" width="6" height="6" fill="#C6D9AE"/><rect x="431.8" y="259.2" width="6" height="6" fill="#C6D9AE"/><rect x="435.9" y="258.2" width="6" height="6" fill="#C6D9AE"/><rect x="439.9" y="257.1" width="6" height="6" fill="#C6D9AE"/><rect x="443.9" y="256.1" width="6" height="6" fill="#C6D9AE"/><rect x="447.9" y="255.0" width="6" height="6" fill="#C6D9AE"/><rect x="451.8" y="254.1" width="6" height="6" fill="#C6D9AE"/><rect x="455.7" y="253.1" width="6" height="6" fill="#C6D9AE"/><rect x="459.5" y="252.2" width="6" height="6" fill="#C6D9AE"/><rect x="463.3" y="251.2" width="6" height="6" fill="#C6D9AE"/><rect x="467.1" y="250.4" width="6" height="6" fill="#C6D9AE"/><rect x="470.8" y="249.5" width="6" height="6" fill="#C6D9AE"/><rect x="474.6" y="248.6" width="6" height="6" fill="#C6D9AE"/><rect x="478.4" y="247.8" width="6" height="6" fill="#C6D9AE"/><rect x="482.1" y="247.0" width="6" height="6" fill="#C6D9AE"/><rect x="485.9" y="246.2" width="6" height="6" fill="#C6D9AE"/><rect x="489.6" y="245.4" width="6" height="6" fill="#C6D9AE"/><rect x="493.3" y="244.7" width="6" height="6" fill="#C6D9AE"/><rect x="497.1" y="244.0" width="6" height="6" fill="#C6D9AE"/><rect x="500.8" y="243.3" width="6" height="6" fill="#C6D9AE"/><rect x="504.5" y="242.7" width="6" height="6" fill="#C6D9AE"/><rect x="508.2" y="242.0" width="6" height="6" fill="#C6D9AE"/><rect x="511.8" y="241.4" width="6" height="6" fill="#C6D9AE"/><rect x="515.5" y="240.9" width="6" height="6" fill="#C6D9AE"/><rect x="519.2" y="240.3" width="6" height="6" fill="#C6D9AE"/><rect x="522.9" y="239.8" width="6" height="6" fill="#C6D9AE"/><rect x="526.5" y="239.3" width="6" height="6" fill="#C6D9AE"/><rect x="530.2" y="238.9" width="6" height="6" fill="#C6D9AE"/><rect x="533.8" y="238.5" width="6" height="6" fill="#C6D9AE"/><rect x="537.4" y="238.1" width="6" height="6" fill="#C6D9AE"/><rect x="541.0" y="237.7" width="6" height="6" fill="#C6D9AE"/><rect x="544.7" y="237.4" width="6" height="6" fill="#C6D9AE"/><rect x="547.1" y="238.0" width="6" height="6" fill="#C6D9AE"/></g></g>
<g><path d="M196.7 365.2L235.6 341.5L270.3 323.5L301.7 310.7L329.4 298.3L355.6 290.0L378.9 283.9L401.1 277.2L421.7 273.3L441.7 268.9L461.3 265.0L478.3 262.9L495.1 262.9L510.4 262.9L525.7 265.0L539.0 268.3L552.0 272.0" fill="none" stroke="#000" stroke-width="2" stroke-linejoin="round"/><g stroke="#000" stroke-width="1"><path d="M196.7 362.2L199.7 368.2L193.7 368.2Z" fill="#A5A7B0"/><path d="M235.6 338.5L238.6 344.5L232.6 344.5Z" fill="#A5A7B0"/><path d="M270.3 320.5L273.3 326.5L267.3 326.5Z" fill="#A5A7B0"/><path d="M301.7 307.7L304.7 313.7L298.7 313.7Z" fill="#A5A7B0"/><path d="M329.4 295.3L332.4 301.3L326.4 301.3Z" fill="#A5A7B0"/><path d="M355.6 287.0L358.6 293.0L352.6 293.0Z" fill="#A5A7B0"/><path d="M378.9 280.9L381.9 286.9L375.9 286.9Z" fill="#A5A7B0"/><path d="M401.1 274.2L404.1 280.2L398.1 280.2Z" fill="#A5A7B0"/><path d="M421.7 270.3L424.7 276.3L418.7 276.3Z" fill="#A5A7B0"/><path d="M441.7 265.9L444.7 271.9L438.7 271.9Z" fill="#A5A7B0"/><path d="M461.3 262.0L464.3 268.0L458.3 268.0Z" fill="#A5A7B0"/><path d="M478.3 259.9L481.3 265.9L475.3 265.9Z" fill="#A5A7B0"/><path d="M495.1 259.9L498.1 265.9L492.1 265.9Z" fill="#A5A7B0"/><path d="M510.4 259.9L513.4 265.9L507.4 265.9Z" fill="#A5A7B0"/><path d="M525.7 262.0L528.7 268.0L522.7 268.0Z" fill="#A5A7B0"/><path d="M539.0 265.3L542.0 271.3L536.0 271.3Z" fill="#A5A7B0"/><path d="M552.0 269.0L555.0 275.0L549.0 275.0Z" fill="#A5A7B0"/></g></g>
<g><path d="M156.7 374.6L159.7 372.3L162.7 369.9L165.7 367.4L168.6 364.9L171.6 362.4L174.5 359.8L177.5 357.3L180.4 354.8L183.3 352.4L186.2 350.0L189.1 347.7L192.0 345.6L194.9 343.6L197.7 341.6L200.6 339.8L203.4 338.1L206.3 336.4L209.1 334.9L211.9 333.3L214.7 331.9L217.5 330.5L220.3 329.1L223.1 327.7L225.8 326.4L228.6 325.0L231.3 323.7L234.1 322.4L236.8 321.0L239.5 319.7L242.2 318.4L244.9 317.0L247.6 315.7L250.3 314.4L253.0 313.1L255.7 311.8L258.3 310.5L261.0 309.2L263.6 307.9L266.2 306.7L268.8 305.4L271.4 304.2L274.0 302.9L276.6 301.7L279.2 300.5L281.8 299.3L284.3 298.2L286.9 297.0L289.4 295.9L292.0 294.9L294.5 293.9L297.0 292.9L299.5 292.0L302.0 291.1L304.5 290.2L307.0 289.4L309.5 288.6L312.0 287.8L314.5 287.0L317.0 286.3L319.4 285.5L321.9 284.8L324.4 284.0L326.8 283.2L329.3 282.5L331.7 281.7L334.2 280.9L336.6 280.1L339.1 279.2L341.5 278.4L343.9 277.5L346.4 276.6L348.8 275.6L351.2 274.6L353.6 273.5L356.0 272.4L358.4 271.4L360.8 270.3L363.2 269.3L365.6 268.3L368.0 267.3L370.4 266.4L372.8 265.6L375.2 264.9L377.6 264.2L379.9 263.6L382.3 263.0L384.7 262.5L387.0 262.0L389.4 261.6L391.7 261.1L394.1 260.7L396.4 260.3L398.8 259.9L401.1 259.5L403.4 259.0L405.8 258.6L408.1 258.1L410.4 257.6L412.7 257.1L415.0 256.5L417.4 255.9L419.7 255.3L422.0 254.7L424.3 254.0L426.6 253.3L428.8 252.7L431.1 252.0L433.4 251.4L435.7 250.7L438.0 250.1L440.2 249.5L442.5 248.9L444.8 248.4L447.0 247.9L449.3 247.5L451.6 247.1L453.8 246.8L456.1 246.5L458.3 246.3L460.5 246.2L462.8 246.2L465.0 246.2L467.2 246.3L469.5 246.6L471.7 246.9L473.9 247.4L476.1 248.1L478.3 249.0L480.5 250.3L481.4 251.8" fill="none" stroke="#000" stroke-width="2" stroke-linejoin="round"/><g stroke="#000" stroke-width="1"><path d="M156.7 371.1L160.2 374.6L156.7 378.1L153.2 374.6Z" fill="#5879B1"/><path d="M159.7 368.8L163.2 372.3L159.7 375.8L156.2 372.3Z" fill="#5879B1"/><path d="M162.7 366.4L166.2 369.9L162.7 373.4L159.2 369.9Z" fill="#5879B1"/><path d="M165.7 363.9L169.2 367.4L165.7 370.9L162.2 367.4Z" fill="#5879B1"/><path d="M168.6 361.4L172.1 364.9L168.6 368.4L165.1 364.9Z" fill="#5879B1"/><path d="M171.6 358.9L175.1 362.4L171.6 365.9L168.1 362.4Z" fill="#5879B1"/><path d="M174.5 356.3L178.0 359.8L174.5 363.3L171.0 359.8Z" fill="#5879B1"/><path d="M177.5 353.8L181.0 357.3L177.5 360.8L174.0 357.3Z" fill="#5879B1"/><path d="M180.4 351.3L183.9 354.8L180.4 358.3L176.9 354.8Z" fill="#5879B1"/><path d="M183.3 348.9L186.8 352.4L183.3 355.9L179.8 352.4Z" fill="#5879B1"/><path d="M186.2 346.5L189.7 350.0L186.2 353.5L182.7 350.0Z" fill="#5879B1"/><path d="M189.1 344.2L192.6 347.7L189.1 351.2L185.6 347.7Z" fill="#5879B1"/><path d="M192.0 342.1L195.5 345.6L192.0 349.1L188.5 345.6Z" fill="#5879B1"/><path d="M194.9 340.1L198.4 343.6L194.9 347.1L191.4 343.6Z" fill="#5879B1"/><path d="M197.7 338.1L201.2 341.6L197.7 345.1L194.2 341.6Z" fill="#5879B1"/><path d="M200.6 336.3L204.1 339.8L200.6 343.3L197.1 339.8Z" fill="#5879B1"/><path d="M203.4 334.6L206.9 338.1L203.4 341.6L199.9 338.1Z" fill="#5879B1"/><path d="M206.3 332.9L209.8 336.4L206.3 339.9L202.8 336.4Z" fill="#5879B1"/><path d="M209.1 331.4L212.6 334.9L209.1 338.4L205.6 334.9Z" fill="#5879B1"/><path d="M211.9 329.8L215.4 333.3L211.9 336.8L208.4 333.3Z" fill="#5879B1"/><path d="M214.7 328.4L218.2 331.9L214.7 335.4L211.2 331.9Z" fill="#5879B1"/><path d="M217.5 327.0L221.0 330.5L217.5 334.0L214.0 330.5Z" fill="#5879B1"/><path d="M220.3 325.6L223.8 329.1L220.3 332.6L216.8 329.1Z" fill="#5879B1"/><path d="M223.1 324.2L226.6 327.7L223.1 331.2L219.6 327.7Z" fill="#5879B1"/><path d="M225.8 322.9L229.3 326.4L225.8 329.9L222.3 326.4Z" fill="#5879B1"/><path d="M228.6 321.5L232.1 325.0L228.6 328.5L225.1 325.0Z" fill="#5879B1"/><path d="M231.3 320.2L234.8 323.7L231.3 327.2L227.8 323.7Z" fill="#5879B1"/><path d="M234.1 318.9L237.6 322.4L234.1 325.9L230.6 322.4Z" fill="#5879B1"/><path d="M236.8 317.5L240.3 321.0L236.8 324.5L233.3 321.0Z" fill="#5879B1"/><path d="M239.5 316.2L243.0 319.7L239.5 323.2L236.0 319.7Z" fill="#5879B1"/><path d="M242.2 314.9L245.7 318.4L242.2 321.9L238.7 318.4Z" fill="#5879B1"/><path d="M244.9 313.5L248.4 317.0L244.9 320.5L241.4 317.0Z" fill="#5879B1"/><path d="M247.6 312.2L251.1 315.7L247.6 319.2L244.1 315.7Z" fill="#5879B1"/><path d="M250.3 310.9L253.8 314.4L250.3 317.9L246.8 314.4Z" fill="#5879B1"/><path d="M253.0 309.6L256.5 313.1L253.0 316.6L249.5 313.1Z" fill="#5879B1"/><path d="M255.7 308.3L259.2 311.8L255.7 315.3L252.2 311.8Z" fill="#5879B1"/><path d="M258.3 307.0L261.8 310.5L258.3 314.0L254.8 310.5Z" fill="#5879B1"/><path d="M261.0 305.7L264.5 309.2L261.0 312.7L257.5 309.2Z" fill="#5879B1"/><path d="M263.6 304.4L267.1 307.9L263.6 311.4L260.1 307.9Z" fill="#5879B1"/><path d="M266.2 303.2L269.7 306.7L266.2 310.2L262.7 306.7Z" fill="#5879B1"/><path d="M268.8 301.9L272.3 305.4L268.8 308.9L265.3 305.4Z" fill="#5879B1"/><path d="M271.4 300.7L274.9 304.2L271.4 307.7L267.9 304.2Z" fill="#5879B1"/><path d="M274.0 299.4L277.5 302.9L274.0 306.4L270.5 302.9Z" fill="#5879B1"/><path d="M276.6 298.2L280.1 301.7L276.6 305.2L273.1 301.7Z" fill="#5879B1"/><path d="M279.2 297.0L282.7 300.5L279.2 304.0L275.7 300.5Z" fill="#5879B1"/><path d="M281.8 295.8L285.3 299.3L281.8 302.8L278.3 299.3Z" fill="#5879B1"/><path d="M284.3 294.7L287.8 298.2L284.3 301.7L280.8 298.2Z" fill="#5879B1"/><path d="M286.9 293.5L290.4 297.0L286.9 300.5L283.4 297.0Z" fill="#5879B1"/><path d="M289.4 292.4L292.9 295.9L289.4 299.4L285.9 295.9Z" fill="#5879B1"/><path d="M292.0 291.4L295.5 294.9L292.0 298.4L288.5 294.9Z" fill="#5879B1"/><path d="M294.5 290.4L298.0 293.9L294.5 297.4L291.0 293.9Z" fill="#5879B1"/><path d="M297.0 289.4L300.5 292.9L297.0 296.4L293.5 292.9Z" fill="#5879B1"/><path d="M299.5 288.5L303.0 292.0L299.5 295.5L296.0 292.0Z" fill="#5879B1"/><path d="M302.0 287.6L305.5 291.1L302.0 294.6L298.5 291.1Z" fill="#5879B1"/><path d="M304.5 286.7L308.0 290.2L304.5 293.7L301.0 290.2Z" fill="#5879B1"/><path d="M307.0 285.9L310.5 289.4L307.0 292.9L303.5 289.4Z" fill="#5879B1"/><path d="M309.5 285.1L313.0 288.6L309.5 292.1L306.0 288.6Z" fill="#5879B1"/><path d="M312.0 284.3L315.5 287.8L312.0 291.3L308.5 287.8Z" fill="#5879B1"/><path d="M314.5 283.5L318.0 287.0L314.5 290.5L311.0 287.0Z" fill="#5879B1"/><path d="M317.0 282.8L320.5 286.3L317.0 289.8L313.5 286.3Z" fill="#5879B1"/><path d="M319.4 282.0L322.9 285.5L319.4 289.0L315.9 285.5Z" fill="#5879B1"/><path d="M321.9 281.3L325.4 284.8L321.9 288.3L318.4 284.8Z" fill="#5879B1"/><path d="M324.4 280.5L327.9 284.0L324.4 287.5L320.9 284.0Z" fill="#5879B1"/><path d="M326.8 279.7L330.3 283.2L326.8 286.7L323.3 283.2Z" fill="#5879B1"/><path d="M329.3 279.0L332.8 282.5L329.3 286.0L325.8 282.5Z" fill="#5879B1"/><path d="M331.7 278.2L335.2 281.7L331.7 285.2L328.2 281.7Z" fill="#5879B1"/><path d="M334.2 277.4L337.7 280.9L334.2 284.4L330.7 280.9Z" fill="#5879B1"/><path d="M336.6 276.6L340.1 280.1L336.6 283.6L333.1 280.1Z" fill="#5879B1"/><path d="M339.1 275.7L342.6 279.2L339.1 282.7L335.6 279.2Z" fill="#5879B1"/><path d="M341.5 274.9L345.0 278.4L341.5 281.9L338.0 278.4Z" fill="#5879B1"/><path d="M343.9 274.0L347.4 277.5L343.9 281.0L340.4 277.5Z" fill="#5879B1"/><path d="M346.4 273.1L349.9 276.6L346.4 280.1L342.9 276.6Z" fill="#5879B1"/><path d="M348.8 272.1L352.3 275.6L348.8 279.1L345.3 275.6Z" fill="#5879B1"/><path d="M351.2 271.1L354.7 274.6L351.2 278.1L347.7 274.6Z" fill="#5879B1"/><path d="M353.6 270.0L357.1 273.5L353.6 277.0L350.1 273.5Z" fill="#5879B1"/><path d="M356.0 268.9L359.5 272.4L356.0 275.9L352.5 272.4Z" fill="#5879B1"/><path d="M358.4 267.9L361.9 271.4L358.4 274.9L354.9 271.4Z" fill="#5879B1"/><path d="M360.8 266.8L364.3 270.3L360.8 273.8L357.3 270.3Z" fill="#5879B1"/><path d="M363.2 265.8L366.7 269.3L363.2 272.8L359.7 269.3Z" fill="#5879B1"/><path d="M365.6 264.8L369.1 268.3L365.6 271.8L362.1 268.3Z" fill="#5879B1"/><path d="M368.0 263.8L371.5 267.3L368.0 270.8L364.5 267.3Z" fill="#5879B1"/><path d="M370.4 262.9L373.9 266.4L370.4 269.9L366.9 266.4Z" fill="#5879B1"/><path d="M372.8 262.1L376.3 265.6L372.8 269.1L369.3 265.6Z" fill="#5879B1"/><path d="M375.2 261.4L378.7 264.9L375.2 268.4L371.7 264.9Z" fill="#5879B1"/><path d="M377.6 260.7L381.1 264.2L377.6 267.7L374.1 264.2Z" fill="#5879B1"/><path d="M379.9 260.1L383.4 263.6L379.9 267.1L376.4 263.6Z" fill="#5879B1"/><path d="M382.3 259.5L385.8 263.0L382.3 266.5L378.8 263.0Z" fill="#5879B1"/><path d="M384.7 259.0L388.2 262.5L384.7 266.0L381.2 262.5Z" fill="#5879B1"/><path d="M387.0 258.5L390.5 262.0L387.0 265.5L383.5 262.0Z" fill="#5879B1"/><path d="M389.4 258.1L392.9 261.6L389.4 265.1L385.9 261.6Z" fill="#5879B1"/><path d="M391.7 257.6L395.2 261.1L391.7 264.6L388.2 261.1Z" fill="#5879B1"/><path d="M394.1 257.2L397.6 260.7L394.1 264.2L390.6 260.7Z" fill="#5879B1"/><path d="M396.4 256.8L399.9 260.3L396.4 263.8L392.9 260.3Z" fill="#5879B1"/><path d="M398.8 256.4L402.3 259.9L398.8 263.4L395.3 259.9Z" fill="#5879B1"/><path d="M401.1 256.0L404.6 259.5L401.1 263.0L397.6 259.5Z" fill="#5879B1"/><path d="M403.4 255.5L406.9 259.0L403.4 262.5L399.9 259.0Z" fill="#5879B1"/><path d="M405.8 255.1L409.3 258.6L405.8 262.1L402.3 258.6Z" fill="#5879B1"/><path d="M408.1 254.6L411.6 258.1L408.1 261.6L404.6 258.1Z" fill="#5879B1"/><path d="M410.4 254.1L413.9 257.6L410.4 261.1L406.9 257.6Z" fill="#5879B1"/><path d="M412.7 253.6L416.2 257.1L412.7 260.6L409.2 257.1Z" fill="#5879B1"/><path d="M415.0 253.0L418.5 256.5L415.0 260.0L411.5 256.5Z" fill="#5879B1"/><path d="M417.4 252.4L420.9 255.9L417.4 259.4L413.9 255.9Z" fill="#5879B1"/><path d="M419.7 251.8L423.2 255.3L419.7 258.8L416.2 255.3Z" fill="#5879B1"/><path d="M422.0 251.2L425.5 254.7L422.0 258.2L418.5 254.7Z" fill="#5879B1"/><path d="M424.3 250.5L427.8 254.0L424.3 257.5L420.8 254.0Z" fill="#5879B1"/><path d="M426.6 249.8L430.1 253.3L426.6 256.8L423.1 253.3Z" fill="#5879B1"/><path d="M428.8 249.2L432.3 252.7L428.8 256.2L425.3 252.7Z" fill="#5879B1"/><path d="M431.1 248.5L434.6 252.0L431.1 255.5L427.6 252.0Z" fill="#5879B1"/><path d="M433.4 247.9L436.9 251.4L433.4 254.9L429.9 251.4Z" fill="#5879B1"/><path d="M435.7 247.2L439.2 250.7L435.7 254.2L432.2 250.7Z" fill="#5879B1"/><path d="M438.0 246.6L441.5 250.1L438.0 253.6L434.5 250.1Z" fill="#5879B1"/><path d="M440.2 246.0L443.7 249.5L440.2 253.0L436.7 249.5Z" fill="#5879B1"/><path d="M442.5 245.4L446.0 248.9L442.5 252.4L439.0 248.9Z" fill="#5879B1"/><path d="M444.8 244.9L448.3 248.4L444.8 251.9L441.3 248.4Z" fill="#5879B1"/><path d="M447.0 244.4L450.5 247.9L447.0 251.4L443.5 247.9Z" fill="#5879B1"/><path d="M449.3 244.0L452.8 247.5L449.3 251.0L445.8 247.5Z" fill="#5879B1"/><path d="M451.6 243.6L455.1 247.1L451.6 250.6L448.1 247.1Z" fill="#5879B1"/><path d="M453.8 243.3L457.3 246.8L453.8 250.3L450.3 246.8Z" fill="#5879B1"/><path d="M456.1 243.0L459.6 246.5L456.1 250.0L452.6 246.5Z" fill="#5879B1"/><path d="M458.3 242.8L461.8 246.3L458.3 249.8L454.8 246.3Z" fill="#5879B1"/><path d="M460.5 242.7L464.0 246.2L460.5 249.7L457.0 246.2Z" fill="#5879B1"/><path d="M462.8 242.7L466.3 246.2L462.8 249.7L459.3 246.2Z" fill="#5879B1"/><path d="M465.0 242.7L468.5 246.2L465.0 249.7L461.5 246.2Z" fill="#5879B1"/><path d="M467.2 242.8L470.7 246.3L467.2 249.8L463.7 246.3Z" fill="#5879B1"/><path d="M469.5 243.1L473.0 246.6L469.5 250.1L466.0 246.6Z" fill="#5879B1"/><path d="M471.7 243.4L475.2 246.9L471.7 250.4L468.2 246.9Z" fill="#5879B1"/><path d="M473.9 243.9L477.4 247.4L473.9 250.9L470.4 247.4Z" fill="#5879B1"/><path d="M476.1 244.6L479.6 248.1L476.1 251.6L472.6 248.1Z" fill="#5879B1"/><path d="M478.3 245.5L481.8 249.0L478.3 252.5L474.8 249.0Z" fill="#5879B1"/><path d="M480.5 246.8L484.0 250.3L480.5 253.8L477.0 250.3Z" fill="#5879B1"/><path d="M481.4 248.3L484.9 251.8L481.4 255.3L477.9 251.8Z" fill="#5879B1"/></g></g>
<rect x="154.5" y="94.5" width="429" height="344" fill="none" stroke="#000" stroke-width="3"/>
<g stroke="#000" stroke-width="2">
<path d="M147 94.5H154.5M147 143.6H154.5M147 192.7H154.5M147 241.9H154.5M147 291H154.5M147 340.2H154.5M147 389.3H154.5M147 438.5H154.5"/>
<path d="M154.5 438.5V446M297.5 438.5V446M440.5 438.5V446M583.5 438.5V446"/>
</g>
<g font-size="20.5" text-anchor="end" fill="#000" stroke="#000" stroke-width="0.3">
<text x="132" y="101.5">70</text>
<text x="132" y="150.6">60</text>
<text x="132" y="199.7">50</text>
<text x="132" y="248.9">40</text>
<text x="132" y="298">30</text>
<text x="132" y="347.2">20</text>
<text x="132" y="396.3">10</text>
<text x="132" y="445.5">0</text>
</g>
<g font-size="20.5" text-anchor="middle" fill="#000" stroke="#000" stroke-width="0.3">
<text x="155" y="474.8">0</text>
<text x="297.5" y="474.8" letter-spacing="0.8">0.5</text>
<text x="440.5" y="474.8">1</text>
<text x="583.5" y="474.8" letter-spacing="0.8">1.5</text>
</g>
<text x="382.5" y="500.5" font-size="20.5" font-weight="bold" text-anchor="middle">Effective strain [-]</text>
<text transform="translate(101.4 266.5) rotate(-90)" font-size="20.5" font-weight="bold" text-anchor="middle">Stress [MPa]</text>
<text x="451.5" y="323" font-size="22" letter-spacing="1.1" text-anchor="middle" stroke="#000" stroke-width="0.3">Temperature [°C]</text>
<path d="M339 351.5H361" stroke="#000" stroke-width="2"/>
<g stroke="#000" stroke-width="1"><rect x="347.5" y="348.5" width="6" height="6" fill="#A8565C"/></g>
<text x="362.2" y="358.5" font-size="20" letter-spacing="0.9" stroke="#000" stroke-width="0.3">750</text>
<path d="M424 351.5H445" stroke="#000" stroke-width="2"/>
<g stroke="#000" stroke-width="1"><path d="M435.0 348.5L438.0 354.5L432.0 354.5Z" fill="#B2C29C"/></g>
<text x="446.9" y="358.5" font-size="20" letter-spacing="0.9" stroke="#000" stroke-width="0.3">775</text>
<path d="M510 351.5H530.6" stroke="#000" stroke-width="2"/>
<g stroke="#000" stroke-width="1"><path d="M520.6 348.0L524.1 351.5L520.6 355.0L517.1 351.5Z" fill="#7A6A9B"/></g>
<text x="531.8" y="358.5" font-size="20" letter-spacing="0.9" stroke="#000" stroke-width="0.3">800</text>
<path d="M339 385.5H361" stroke="#000" stroke-width="2"/>
<g stroke="#000" stroke-width="1"><rect x="347.5" y="382.5" width="6" height="6" fill="#4F9BA9"/></g>
<text x="362.2" y="392.3" font-size="20" letter-spacing="0.9" stroke="#000" stroke-width="0.3">825</text>
<path d="M424 385.5H445" stroke="#000" stroke-width="2"/>
<g stroke="#000" stroke-width="1"><path d="M435.0 382.5L438.0 388.5L432.0 388.5Z" fill="#D69C7A"/></g>
<text x="446.9" y="392.3" font-size="20" letter-spacing="0.9" stroke="#000" stroke-width="0.3">850</text>
<path d="M510 385.5H530.6" stroke="#000" stroke-width="2"/>
<g stroke="#000" stroke-width="1"><path d="M520.6 382.0L524.1 385.5L520.6 389.0L517.1 385.5Z" fill="#D9A2A1"/></g>
<text x="531.8" y="392.3" font-size="20" letter-spacing="0.9" stroke="#000" stroke-width="0.3">875</text>
<path d="M339 419.5H361" stroke="#000" stroke-width="2"/>
<g stroke="#000" stroke-width="1"><rect x="347.5" y="416.5" width="6" height="6" fill="#C6D9AE"/></g>
<text x="362.2" y="426" font-size="20" letter-spacing="0.9" stroke="#000" stroke-width="0.3">900</text>
<path d="M424 419.5H445" stroke="#000" stroke-width="2"/>
<g stroke="#000" stroke-width="1"><path d="M435.0 416.5L438.0 422.5L432.0 422.5Z" fill="#A5A7B0"/></g>
<text x="446.9" y="426" font-size="20" letter-spacing="0.9" stroke="#000" stroke-width="0.3">925</text>
<path d="M510 419.5H530.6" stroke="#000" stroke-width="2"/>
<g stroke="#000" stroke-width="1"><path d="M520.6 416.0L524.1 419.5L520.6 423.0L517.1 419.5Z" fill="#5879B1"/></g>
<text x="531.8" y="426" font-size="20" letter-spacing="0.9" stroke="#000" stroke-width="0.3">950</text>
</svg>

<div id="footer" class="abs"></div>
<div id="footline" class="abs"></div>
<div class="abs ft" style="left:273px;top:518px;letter-spacing:0.6px;">Tarusa</div>
<div class="abs ft" style="left:395px;top:515px;letter-spacing:0.45px;">July 09-11, 2013</div>
<div class="abs ft" style="left:695px;top:518px;font-size:15.5px;">23</div>
</body></html>
